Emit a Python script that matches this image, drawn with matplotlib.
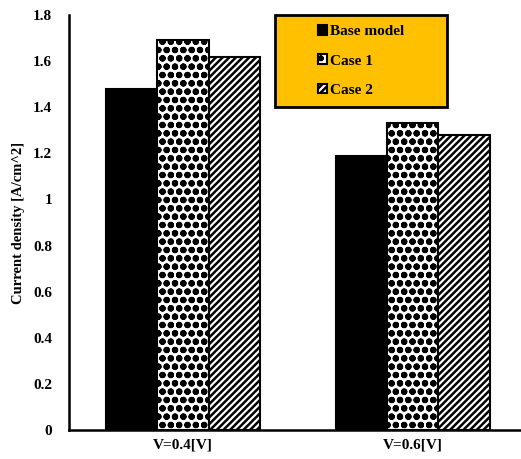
import matplotlib
matplotlib.use("Agg")
import matplotlib.pyplot as plt
import numpy as np
from matplotlib.patches import Rectangle

plt.rcParams["font.family"] = ["Liberation Serif", "DejaVu Serif"]
plt.rcParams["font.weight"] = "bold"
plt.rcParams["hatch.linewidth"] = 1.8

groups = ["V=0.4[V]", "V=0.6[V]"]
series = ["Base model", "Case 1", "Case 2"]
base_model = [1.48, 1.19]
case_1 = [1.69, 1.33]
case_2 = [1.62, 1.28]

_ORANGE = "#FFC000"

fig = plt.figure(figsize=(5.21, 4.59), dpi=100)
ax = fig.add_axes([0.1324, 0.0632, 0.8676, 0.9041])

x = np.arange(len(groups))
w = 0.222
styles = [
    dict(facecolor="black", hatch=None, hlw=1.8),
    dict(facecolor="white", hatch="oo", hlw=2.2),
    dict(facecolor="white", hatch="/////", hlw=1.8),
]
bars = []
for i, (vals, st) in enumerate(zip([base_model, case_1, case_2], styles)):
    b = ax.bar(x + (i - 1) * w, vals, w, facecolor=st["facecolor"],
               hatch=st["hatch"], edgecolor="black", linewidth=1.5,
               label=series[i], zorder=2)
    for p in b:
        p.set_hatch_linewidth(st["hlw"])
    bars.append(b)

ax.set_xlim(-0.496, 1.47)
ax.set_ylim(0, 1.8)
ax.set_yticks(np.arange(0, 1.81, 0.2))
ax.set_yticklabels(["0", "0.2", "0.4", "0.6", "0.8", "1", "1.2", "1.4", "1.6", "1.8"])
ax.set_xticks(x)
ax.set_xticklabels(groups)
ax.tick_params(axis="both", length=0, labelsize=11)
ax.tick_params(axis="y", pad=12)
ax.tick_params(axis="x", pad=6)
for lbl in ax.get_xticklabels() + ax.get_yticklabels():
    lbl.set_fontweight("bold")
ax.set_ylabel("Current density [A/cm^2]", fontsize=10.5, fontweight="bold", labelpad=6)

for side in ["top", "right"]:
    ax.spines[side].set_visible(False)
for side in ["left", "bottom"]:
    ax.spines[side].set_linewidth(1.8)
    ax.spines[side].set_color("black")

# legend box
bx0, by0 = 275 / 521, 1 - 107 / 459
bw, bh = 172 / 521, 92 / 459
fig.patches.append(Rectangle((bx0, by0), bw, bh, transform=fig.transFigure,
                             facecolor=_ORANGE, edgecolor="black", linewidth=2,
                             zorder=3))
leg = fig.legend(handles=bars, labels=series, loc="center",
                 bbox_to_anchor=(bx0, by0, bw, bh), bbox_transform=fig.transFigure,
                 frameon=False, handlelength=0.6, handleheight=0.6,
                 handletextpad=0.2, labelspacing=1.05,
                 prop={"weight": "bold", "size": 11})
leg.set_zorder(4)

fig.savefig("out.png", dpi=100)
